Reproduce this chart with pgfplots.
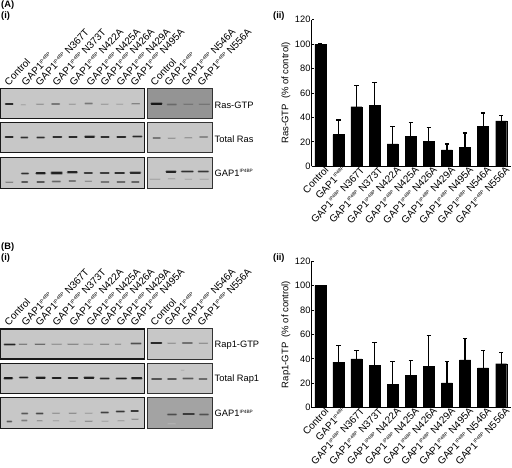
\documentclass[border=0pt]{standalone}
\usepackage{fontspec}
\setmainfont{Liberation Sans}
\usepackage{pgfplots}
\usepackage{pgfplotstable}
\pgfplotsset{compat=1.18}
\newcommand\ipsup{\raisebox{.38em}{\fontsize{4.7}{5}\selectfont IP4BP}}
\newcommand\gap{GAP1\ipsup}
\pgfplotstableread{
x y e
0 100 0.3
1 25.9 12.0
2 48.8 17.7
3 49.9 18.5
4 18.3 14.1
5 24.8 11.2
6 20.2 11.4
7 13.4 4.9
8 15.3 11.9
9 32.7 10.9
10 37.3 4.4
}\rastable
\pgfplotstableread{
x y e
0 100 0.3
1 37.3 13.7
2 40.0 6.6
3 34.6 18.8
4 19.0 18.6
5 26.4 12.3
6 33.8 25.1
7 20.4 17.2
8 39.2 17.2
9 32.7 14.2
10 36.0 9.0
}\raptable
\pgfplotsset{barax/.style={
  scale only axis, width=199.3pt, height=146.5pt, anchor=south west,
  xmin=-0.475, xmax=10.54, ymin=0, ymax=120, clip=false,
  axis x line*=bottom, axis y line*=left,
  axis line style={-, line width=1.1pt},
  xtick={0,...,10},
  xticklabels={Control,\gap,\gap{} N367T,\gap{} N373T,\gap{} N422A,\gap{} N425A,\gap{} N426A,\gap{} N429A,\gap{} N495A,\gap{} N546A,\gap{} N556A},
  x tick label style={rotate=47, anchor=north east, font=\fontsize{10}{10}\selectfont, inner sep=0pt, xshift=3pt, yshift=-2pt},
  ytick={0,20,...,120},
  y tick label style={font=\fontsize{9.3}{10}\selectfont, inner sep=1pt},
  /pgf/number format/assume math mode=true,
  tick style={black, line width=0.8pt},
  major tick length=2pt, x tick style={draw=none},
  ylabel style={font=\fontsize{9.5}{10}\selectfont, at={(axis description cs:-0.09,0.5)}, anchor=south},
}, barst/.style={ybar, bar width=11pt, bar shift=0pt, fill=black, draw=black,
  error bars/.cd, y dir=plus, y explicit, error bar style={black, line width=1.2pt},
  error mark options={rotate=90, mark size=2.2pt, line width=1.2pt, black}}}
% blot drawing: coordinates are in units of 1/3 reference pixel
\newcommand\rect[7]{\addplot[no marks, draw=black!#7, line width=#6pt, fill=black!#5]
  coordinates {(#1,#2)(#3,#2)(#3,#4)(#1,#4)} --cycle;}
\newcommand\band[5]{%
  \addplot[no marks, draw=black!#5, opacity=.3, line width=#4*0.8pt+1.4pt, line cap=round] coordinates {(#1,#3)(#2,#3)};
  \addplot[no marks, draw=black!#5, opacity=.9, line width=#4*0.85pt, line cap=round] coordinates {(#1,#3)(#2,#3)};}
\begin{document}
\begin{tikzpicture}[x=1pt,y=1pt]
\path[use as bounding box] (0,0) rectangle (512,468);
\begin{axis}[at={(0,0)}, anchor=south west, scale only axis, width=512pt, height=468pt,
  xmin=0, xmax=1536, ymin=0, ymax=1404, y dir=reverse, hide axis, clip=false]
% ---- panel A backgrounds
\rect{2}{265}{433}{355}{22}{1.6}{90}
\rect{2}{367}{433}{458}{22}{1.6}{90}
\rect{2}{472}{433}{565}{22}{1.6}{90}
\rect{443}{265}{638}{355}{42}{1}{80}
\rect{443}{367}{638}{458}{22}{1}{80}
\rect{443}{472}{638}{565}{22}{1}{80}
% Ras-GTP
\band{17}{38}{312}{1.3}{88}
\band{64}{76}{314}{.8}{34}
\band{110}{130}{312}{.8}{42}
\band{156}{178}{312}{1.2}{55}
\band{208}{226}{312}{.8}{38}
\band{256}{276}{311}{1.2}{55}
\band{304}{324}{312}{.8}{38}
\band{350}{368}{312}{.8}{34}
\band{396}{418}{311}{1.1}{50}
\band{455}{484}{312}{2}{95}
\band{503}{528}{313}{1.2}{60}
\band{552}{578}{313}{1.0}{55}
\band{598}{628}{313}{1.0}{55}
% Total Ras
\band{17}{38}{411}{1.7}{88}
\band{64}{82}{412}{1.5}{85}
\band{112}{132}{412}{1.5}{85}
\band{160}{184}{411}{1.6}{85}
\band{208}{230}{411}{1.6}{88}
\band{256}{282}{411}{2}{90}
\band{304}{326}{411}{1.6}{85}
\band{352}{376}{411}{1.6}{88}
\band{400}{424}{409}{1.8}{88}
\band{460}{480}{414}{1.3}{55}
\band{505}{525}{414}{1}{42}
\band{555}{575}{413}{1.1}{42}
\band{600}{622}{411}{1.3}{48}
% GAP1 A
\band{66}{84}{520}{1.8}{85}
\band{110}{134}{520}{2.6}{92}
\band{156}{184}{519}{2.6}{92}
\band{204}{230}{517}{2.2}{90}
\band{254}{276}{519}{1.6}{80}
\band{302}{326}{519}{1.6}{80}
\band{346}{372}{519}{1.9}{85}
\band{392}{420}{519}{2}{88}
\band{18}{38}{547}{1.0}{50}
\band{66}{82}{546}{1.4}{68}
\band{112}{132}{546}{1.4}{68}
\band{158}{180}{545}{1.3}{62}
\band{208}{226}{543}{1.2}{55}
\band{256}{274}{544}{1.0}{45}
\band{304}{326}{546}{1.2}{55}
\band{352}{374}{546}{1.2}{60}
\band{396}{416}{546}{1.3}{62}
\band{500}{526}{515}{2}{90}
\band{546}{578}{515}{1.8}{85}
\band{596}{624}{515}{1.6}{82}
\band{450}{480}{537}{.5}{34}
\band{505}{525}{536}{.5}{34}
\band{555}{575}{537}{.5}{32}
\band{600}{625}{537}{.5}{32}
% ---- panel B backgrounds
\rect{2}{987}{433}{1077}{22}{1.6}{90}
\rect{2}{1090}{433}{1180}{22}{1.6}{90}
\rect{2}{1193}{433}{1285}{22}{1.6}{90}
\rect{443}{987}{638}{1077}{22}{1}{80}
\rect{443}{1090}{638}{1180}{22}{1}{80}
\rect{443}{1193}{638}{1285}{36}{1}{80}
% Rap1-GTP
\band{14}{44}{1033}{1.6}{90}
\band{58}{80}{1032}{1}{52}
\band{106}{134}{1032}{1.1}{60}
\band{156}{184}{1032}{.9}{42}
\band{204}{234}{1032}{1}{48}
\band{252}{278}{1032}{.9}{38}
\band{302}{326}{1032}{1}{48}
\band{346}{362}{1032}{.9}{42}
\band{394}{422}{1030}{1.3}{72}
\band{454}{484}{1029}{1.6}{88}
\band{504}{526}{1030}{.9}{42}
\band{548}{576}{1029}{1.2}{58}
\band{598}{622}{1029}{1}{44}
% Total Rap1
\band{14}{36}{1135}{2}{95}
\band{60}{82}{1132}{1.8}{90}
\band{110}{134}{1133}{2.1}{92}
\band{158}{182}{1134}{1.8}{92}
\band{206}{232}{1134}{1.8}{90}
\band{254}{280}{1133}{2.1}{92}
\band{302}{326}{1135}{1.6}{88}
\band{350}{378}{1136}{1.8}{92}
\band{396}{424}{1135}{2}{92}
\band{456}{484}{1137}{1.3}{70}
\band{504}{528}{1137}{1.3}{68}
\band{550}{578}{1136}{1.4}{68}
\band{598}{620}{1137}{1.2}{60}
\band{544}{552}{1110}{.5}{30}
% GAP1 B
\band{66}{82}{1240}{1.2}{68}
\band{110}{128}{1240}{1.3}{75}
\band{158}{178}{1240}{.9}{42}
\band{208}{228}{1240}{1}{45}
\band{256}{276}{1240}{.8}{36}
\band{304}{324}{1238}{1.3}{78}
\band{350}{372}{1235}{1.4}{82}
\band{394}{414}{1233}{1.5}{82}
\band{22}{34}{1264}{1.2}{68}
\band{66}{80}{1262}{1.2}{52}
\band{112}{126}{1262}{1}{42}
\band{160}{176}{1262}{.8}{34}
\band{210}{226}{1263}{.8}{32}
\band{256}{276}{1263}{1}{44}
\band{306}{324}{1263}{.8}{34}
\band{354}{372}{1262}{.8}{36}
\band{396}{414}{1257}{1}{44}
\band{504}{528}{1243}{1.3}{72}
\band{550}{582}{1242}{1.5}{80}
\band{600}{624}{1243}{1.3}{70}
\band{504}{526}{1271}{.6}{30}
\end{axis}
% bar charts
\begin{axis}[barax, at={(311.7pt,301.7pt)}, ylabel={Ras-GTP\ \ (\% of control)}]
\addplot[barst] table[x=x, y=y, y error=e] {\rastable};
\end{axis}
\begin{axis}[barax, at={(311.7pt,60.3pt)}, ylabel={Rap1-GTP\ \ (\% of control)}]
\addplot[barst] table[x=x, y=y, y error=e] {\raptable};
\end{axis}
% text
\tikzset{lab/.style={font=\fontsize{9.3}{10}\selectfont, inner sep=0pt, anchor=west},
  bb/.style={font=\fontsize{9.3}{10}\selectfont\bfseries, inner sep=0pt, anchor=west},
  hd/.style={font=\fontsize{10}{10}\selectfont, inner sep=0pt, anchor=south west, rotate=47}}
\node[bb] at (1,463) {(A)};
\node[bb] at (1,452) {(i)};
\node[bb] at (273,452) {(ii)};
\node[bb] at (1,220.5) {(B)};
\node[bb] at (1,210) {(i)};
\node[bb] at (273,210) {(ii)};
\node[lab] at (214.5,363) {Ras-GTP};
\node[lab] at (214.5,329) {Total Ras};
\node[lab] at (214.5,295) {\gap};
\node[lab] at (214.5,122.5) {Rap1-GTP};
\node[lab] at (214.5,88.5) {Total Rap1};
\node[lab] at (214.5,54.5) {\gap};
\foreach \y in {381.5,141.5}{
  \foreach \x/\t in {9/Control,26/\gap,40/\gap{} N367T,57/\gap{} N373T,74/\gap{} N422A,91/\gap{} N425A,105/\gap{} N426A,121/\gap{} N429A,135/\gap{} N495A,155/Control,169/\gap,186/\gap{} N546A,202/\gap{} N556A}{
    \node[hd] at (\x,\y) {\t};
  }
}
\end{tikzpicture}
\end{document}
